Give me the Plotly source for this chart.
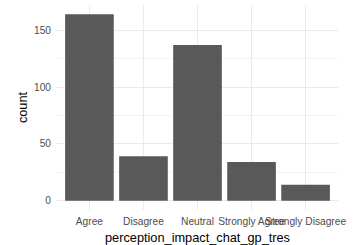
import plotly.graph_objects as go

categories = ["Agree", "Disagree", "Neutral", "Strongly Agree", "Strongly Disagree"]
counts = [164, 39, 137, 34, 14]
y_ticks = [0, 50, 100, 150]

fig = go.Figure(go.Bar(x=categories, y=counts, marker=dict(color="#595959", line=dict(width=0)),
                       width=0.9))

FONT = "Liberation Sans, Arial, sans-serif"
fig.update_layout(
    width=354, height=245,
    margin=dict(l=57, r=16, t=5, b=35),
    plot_bgcolor="white", paper_bgcolor="white",
    showlegend=False,
    font=dict(family=FONT, color="black"),
)
fig.update_xaxes(
    type="category", range=[-0.6, 4.6], tickangle=0, automargin=False,
    showgrid=True, gridcolor="#ebebeb", gridwidth=1,
    showline=False, zeroline=False, ticks="",
    tickfont=dict(size=10.2, color="#4d4d4d", family=FONT),
    ticklabelstandoff=4,
    title=dict(text="perception_impact_chat_gp_tres", font=dict(size=12.75, color="black", family=FONT), standoff=6),
)
fig.update_yaxes(
    range=[-8.2, 172.2], tickvals=y_ticks, automargin=False,
    showgrid=True, gridcolor="#ebebeb", gridwidth=1,
    minor=dict(tickvals=[25, 75, 125], showgrid=True, gridcolor="#f3f3f3", gridwidth=0.6),
    showline=False, zeroline=False, ticks="",
    tickfont=dict(size=10.2, color="#4d4d4d", family=FONT),
    ticklabelstandoff=5,
    title=dict(text="count", font=dict(size=12.75, color="black", family=FONT), standoff=3),
)
fig.write_html("out.html", config={"displayModeBar": False},
               post_script="document.body.style.margin='0';")
